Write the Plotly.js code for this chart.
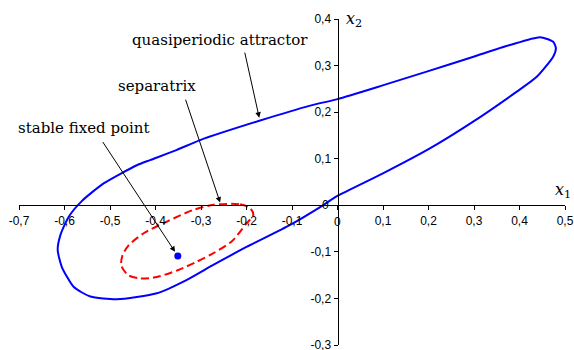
<!DOCTYPE html>
<html>
<head>
<meta charset="utf-8">
<script src="https://cdn.plot.ly/plotly-3.0.1.min.js"></script>
<style>
  html, body { margin: 0; padding: 0; background: #fff; }
  #plot { width: 574px; height: 350px; }
</style>
</head>
<body>
<div id="plot"></div>
<script>
// Limit cycle (quasiperiodic attractor)
var attractorX = [-0.032, -0.002, 0.101, 0.203, 0.299, 0.394, 0.438, 0.474, 0.480, 0.474, 0.445, 0.379,
                  0.299, 0.196, 0.101, 0.000, -0.060, -0.170, -0.302, -0.353, -0.412, -0.441, -0.514,
                  -0.562, -0.591, -0.609, -0.615, -0.606, -0.580, -0.543, -0.485, -0.397, -0.331,
                  -0.273, -0.199, -0.104, -0.032];
var attractorY = [0.000, 0.019, 0.069, 0.122, 0.180, 0.244, 0.276, 0.319, 0.337, 0.351, 0.361, 0.344,
                  0.319, 0.287, 0.258, 0.228, 0.214, 0.182, 0.140, 0.119, 0.097, 0.086, 0.047,
                  0.009, -0.025, -0.064, -0.096, -0.132, -0.175, -0.196, -0.202, -0.189, -0.160,
                  -0.128, -0.089, -0.042, 0.000];

// Separatrix (unstable cycle) around the fixed point
var separatrixX = [-0.273, -0.214, -0.192, -0.185, -0.201, -0.232, -0.273, -0.309, -0.350, -0.397,
                   -0.434, -0.460, -0.475, -0.473, -0.460, -0.426, -0.375, -0.317, -0.273];
var separatrixY = [0.001, 0.002, -0.006, -0.021, -0.040, -0.077, -0.103, -0.121, -0.139, -0.154,
                   -0.157, -0.150, -0.130, -0.109, -0.087, -0.060, -0.035, -0.010, 0.001];

// Stable fixed point
var fixedPointX = [-0.351];
var fixedPointY = [-0.109];

// Ticks
var xTickVals = [-0.7, -0.6, -0.5, -0.4, -0.3, -0.2, -0.1, 0, 0.1, 0.2, 0.3, 0.4, 0.5];
var xTickText = ['-0,7', '-0,6', '-0,5', '-0,4', '-0,3', '-0,2', '-0,1', '0', '0,1', '0,2', '0,3', '0,4', '0,5'];
var yTickVals = [-0.3, -0.2, -0.1, 0, 0.1, 0.2, 0.3, 0.4];
var yTickText = ['-0,3', '-0,2', '-0,1', '0', '0,1', '0,2', '0,3', '0,4'];

var serif = 'DejaVu Serif';
var sans = 'Arial';
var tickSize = 12;

var attractor = {
    x: attractorX,
    y: attractorY,
    mode: 'lines',
    type: 'scatter',
    line: { color: '#0000ff', width: 2, shape: 'spline', smoothing: 0.6 },
    hoverinfo: 'skip'
};

var separatrix = {
    x: separatrixX,
    y: separatrixY,
    mode: 'lines',
    type: 'scatter',
    line: { color: '#ff0000', width: 2, dash: '8px,4px', shape: 'spline', smoothing: 0.8 },
    hoverinfo: 'skip'
};

var fixedPoint = {
    x: fixedPointX,
    y: fixedPointY,
    mode: 'markers',
    type: 'scatter',
    marker: { color: '#0000ff', size: 7 },
    hoverinfo: 'skip'
};

// arrow helper: tail (ax, ay) -> head (x, y), in data units
function arrow(x, y, ax, ay) {
    return {
        x: x, y: y, ax: ax, ay: ay,
        xref: 'x', yref: 'y', axref: 'x', ayref: 'y',
        text: '', showarrow: true,
        arrowhead: 2, arrowsize: 1.1, arrowwidth: 1, arrowcolor: '#000'
    };
}

function label(text, x, y, anchor) {
    return {
        x: x, y: y, xref: 'x', yref: 'y',
        text: text, showarrow: false,
        xanchor: anchor || 'center', yanchor: 'middle',
        font: { family: serif, size: 15, color: '#000' }
    };
}

// plotly drops the labels at the crossing point, so the two "0" go in as annotations
function zeroLabel(text, x, y, xanchor, yanchor, xshift, yshift) {
    return {
        x: x, y: y, xref: 'x', yref: 'y',
        text: text, showarrow: false,
        xanchor: xanchor, yanchor: yanchor, xshift: xshift, yshift: yshift,
        font: { family: sans, size: tickSize, color: '#000' }
    };
}

var layout = {
    width: 574,
    height: 350,
    margin: { l: 19, r: 9, t: 19, b: 5 },
    paper_bgcolor: '#fff',
    plot_bgcolor: '#fff',
    showlegend: false,
    xaxis: {
        range: [-0.7, 0.5],
        anchor: 'free',
        position: 0.3 / 0.7,
        showline: true, linecolor: '#000', linewidth: 1,
        ticks: 'outside', ticklen: 4, tickcolor: '#000', tickwidth: 1,
        tickvals: xTickVals,
        ticktext: xTickText.map(function (t) { return t === '0' ? '' : t; }),
        ticklabeloverflow: 'allow',
        tickfont: { family: sans, size: tickSize, color: '#000' },
        showgrid: false, zeroline: false, fixedrange: true
    },
    yaxis: {
        range: [-0.3, 0.4],
        anchor: 'free',
        position: 0.7 / 1.2,
        showline: true, linecolor: '#000', linewidth: 1,
        ticks: 'outside', ticklen: 4, tickcolor: '#000', tickwidth: 1,
        tickvals: yTickVals,
        ticktext: yTickText.map(function (t) { return t === '0' ? '' : t; }),
        ticklabeloverflow: 'allow',
        tickfont: { family: sans, size: tickSize, color: '#000' },
        showgrid: false, zeroline: false, fixedrange: true
    },
    annotations: [
        label('quasiperiodic attractor', -0.258, 0.354),
        label('separatrix', -0.396, 0.256),
        label('stable fixed point', -0.558, 0.166),
        arrow(-0.172, 0.188, -0.2045, 0.331),
        arrow(-0.258, 0.006, -0.335, 0.230),
        arrow(-0.357, -0.100, -0.518, 0.139),
        zeroLabel(xTickText[7], 0, 0, 'center', 'top', 0, -8),
        zeroLabel(yTickText[3], 0, 0, 'right', 'middle', -7, 0),
        {
            x: 0.4955, y: 0.031, xref: 'x', yref: 'y',
            text: '<i>x</i><sub>1</sub>', showarrow: false,
            xanchor: 'center', yanchor: 'middle',
            font: { family: serif, size: 16, color: '#000' }
        },
        {
            x: 0.0145, y: 0.398, xref: 'x', yref: 'y',
            text: '<i>x</i><sub>2</sub>', showarrow: false,
            xanchor: 'left', yanchor: 'middle',
            font: { family: serif, size: 16, color: '#000' }
        }
    ]
};

Plotly.newPlot('plot', [attractor, separatrix, fixedPoint], layout, { staticPlot: true });
</script>
</body>
</html>
